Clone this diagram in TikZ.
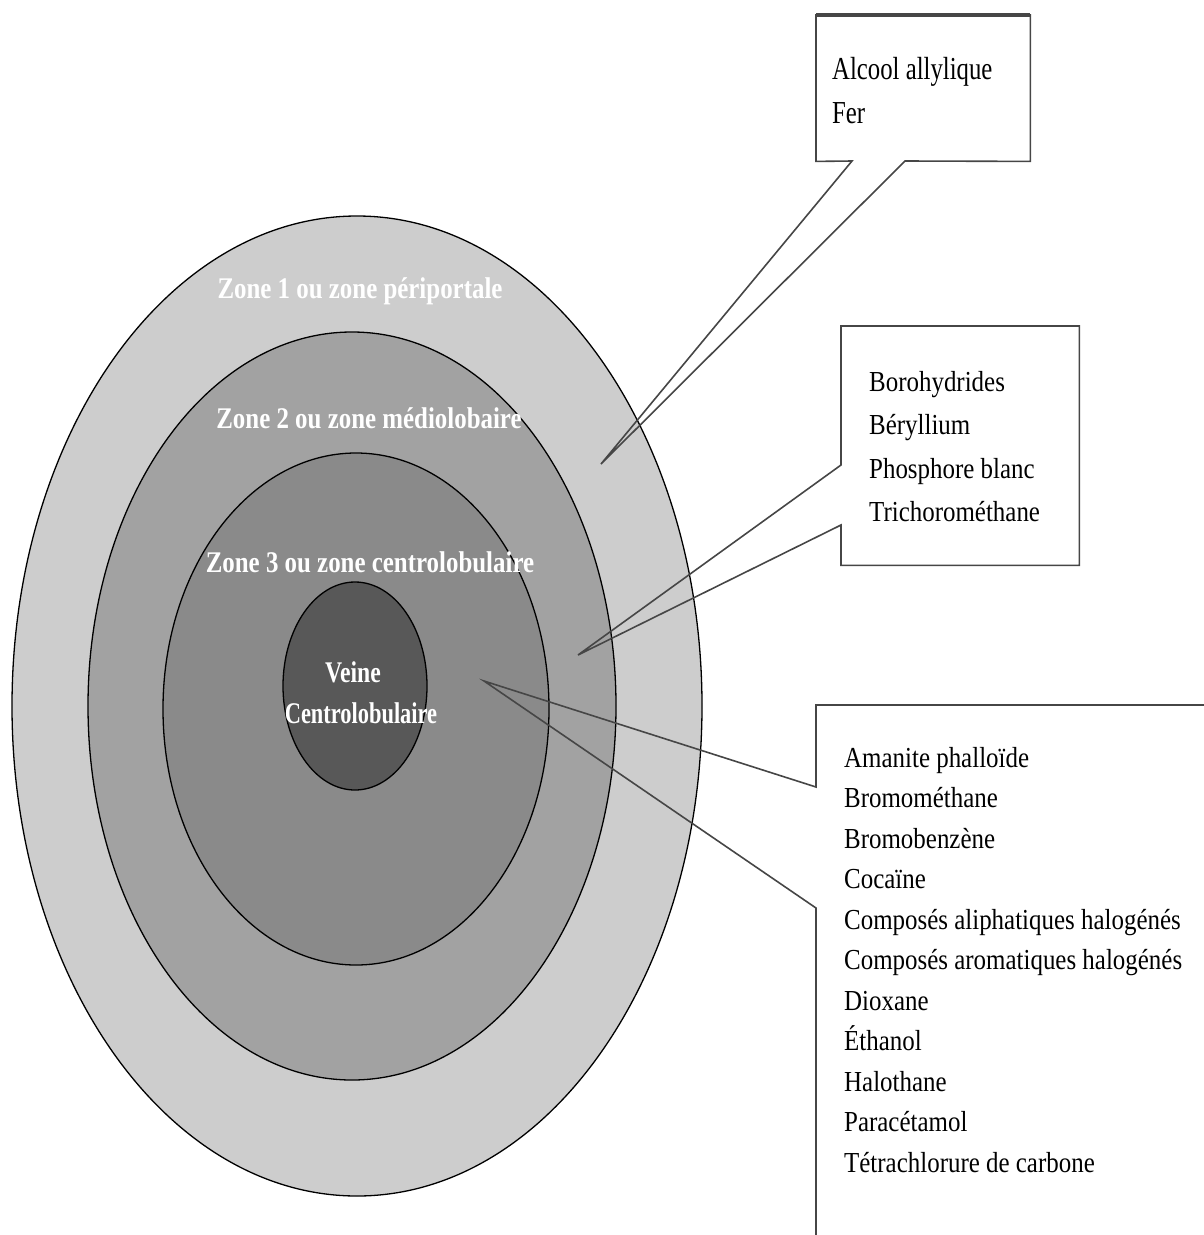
\documentclass[tikz,border=0pt]{standalone}
\usepackage{fontspec}
\setmainfont{Liberation Serif}
\usetikzlibrary{positioning}
\definecolor{zoneone}{RGB}{205,205,205}
\definecolor{zonetwo}{RGB}{162,162,162}
\definecolor{zonethree}{RGB}{138,138,138}
\definecolor{veine}{RGB}{88,88,88}
\definecolor{boxgray}{RGB}{70,70,70}
\tikzset{
x=1pt, y=-1pt, % one unit is one pixel of the figure, y going down
zone/.style={draw=black, line width=1.3pt}, % outline of each ring of the lobule
zonetext/.style={text=white, anchor=base, xscale=0.83, font=\fontsize{30}{32}\selectfont\bfseries},
box/.style={fill=white, inner sep=0pt, anchor=north west}, % white card behind a list
boxline/.style={draw=boxgray, line width=1.6pt, line join=miter}, % card outline with its pointer
list/.style={align=left, inner sep=0pt, anchor=north west, xscale=0.86},
}
\begin{document}
\begin{tikzpicture}
    \useasboundingbox (0,0) rectangle (1203,1235);
    % the four zones of the lobule
    \draw[zone, fill=zoneone] (357,706) ellipse [x radius=345, y radius=490];
    \draw[zone, fill=zonetwo] (352,706) ellipse [x radius=264, y radius=374];
    \draw[zone, fill=zonethree] (356,709) ellipse [x radius=193, y radius=256];
    \draw[zone, fill=veine] (355,686) ellipse [x radius=72, y radius=104];
    \node[zonetext] (z1) at (360,298) {Zone 1 ou zone périportale};
    \node[zonetext] (z2) at (369,428) {Zone 2 ou zone médiolobaire};
    \node[zonetext] (z3) at (370,572) {Zone 3 ou zone centrolobulaire};
    \node[zonetext, xscale=0.95] (v1) at (353,682) {Veine};
    \node[zonetext, xscale=0.9] (v2) at (361,723) {Centrolobulaire};
    % tips of the pointers
    \coordinate (t1) at (601,464);
    \coordinate (t2) at (578,655);
    \coordinate (t3) at (484,681);
    % zone 1 card
    \node[box, minimum width=214, minimum height=146] (b1) at (816,15) {};
    \coordinate (p1a) at (852,161);
    \coordinate (p1b) at (905,161);
    \draw[boxline] (b1.north west) -- (b1.north east) -- (b1.south east) -- (p1b) -- (t1) -- (p1a) -- (b1.south west) -- cycle;
    \draw[boxgray, line width=4pt] (b1.north west) -- (b1.north east);
    \node[list, xscale=0.9, font=\fontsize{32}{44}\selectfont] (l1) at (832,57) {Alcool allylique\\Fer};
    % zone 2 card
    \node[box, minimum width=238, minimum height=239] (b2) at (841,326) {};
    \coordinate (p2a) at (841,465);
    \coordinate (p2b) at (841,525);
    \draw[boxline] (b2.north west) -- (b2.north east) -- (b2.south east) -- (b2.south west) -- (p2b) -- (t2) -- (p2a) -- cycle;
    \node[list, font=\fontsize{29}{43.5}\selectfont] (l2) at (869,371) {Borohydrides\\Béryllium\\Phosphore blanc\\Trichorométhane};
    % zone 3 card
    \node[box, minimum width=400, minimum height=540] (b3) at (816,705) {};
    \coordinate (p3a) at (816,787);
    \coordinate (p3b) at (816,908);
    \draw[boxline] (b3.north west) -- (b3.north east) -- (b3.south east) -- (b3.south west) -- (p3b) -- (t3) -- (p3a) -- cycle;
    \node[list, font=\fontsize{29}{40.5}\selectfont] (l3) at (844,747) {Amanite phalloïde\\Bromométhane\\Bromobenzène\\Cocaïne\\Composés aliphatiques halogénés\\Composés aromatiques halogénés\\Dioxane\\Éthanol\\Halothane\\Paracétamol\\Tétrachlorure de carbone};
\end{tikzpicture}
\end{document}
